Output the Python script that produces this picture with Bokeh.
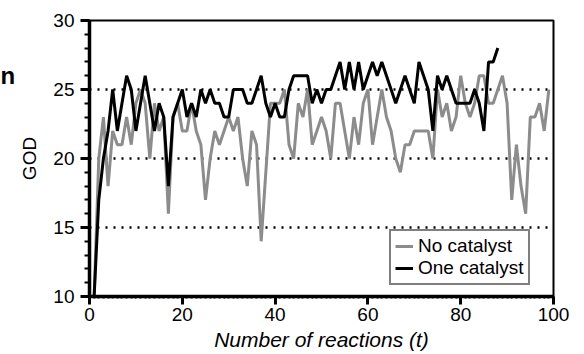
from bokeh.plotting import figure
from bokeh.models import (Range1d, SingleIntervalTicker, FixedTicker, Legend, LegendItem, Label)
from bokeh.layouts import row
from bokeh.embed import file_html
from bokeh.resources import INLINE

# Data
t_no_cat = list(range(1, 100))
god_no_cat = [10, 20, 23, 18, 22, 21, 21, 23, 21, 24,
              25, 24, 20, 24, 22, 23, 16, 23, 24, 22,
              22, 24, 22, 21, 17, 20, 22, 21, 22, 23,
              22, 23, 20, 18, 22, 21, 14, 19, 24, 24,
              24, 25, 21, 20, 24, 23, 25, 21, 22, 23,
              22, 20, 24, 24, 22, 20, 23, 21, 24, 25,
              21, 23, 25, 23, 22, 20, 19, 21, 21, 22,
              22, 22, 22, 20, 25, 23, 24, 22, 23, 26,
              24, 23, 24, 26, 26, 24, 24, 25, 26, 24,
              17, 21, 18, 16, 23, 23, 24, 22, 25]

t_one_cat = list(range(1, 89))
god_one_cat = [10, 17, 20, 22, 25, 22, 24, 26, 25, 22,
               24, 26, 24, 22, 24, 23, 18, 23, 24, 25,
               23, 24, 23, 25, 24, 25, 24, 24, 23, 23,
               25, 25, 25, 24, 24, 25, 26, 24, 23, 24,
               23, 23, 25, 26, 26, 26, 26, 24, 25, 24,
               25, 25, 26, 27, 25, 27, 25, 27, 25, 26,
               27, 26, 27, 26, 25, 24, 25, 26, 25, 24,
               27, 26, 25, 22, 26, 25, 26, 25, 24, 24,
               24, 24, 25, 24, 22, 27, 27, 28]

series_labels = ["No catalyst", "One catalyst"]
x_label = "Number of reactions (t)"
y_label = "GOD"
grid_levels = [15, 20, 25]
side_text = "n"

FONT = "Liberation Sans"
SIDE_W = 16

# narrow strip on the far left holding the fragment of neighbouring text
side = figure(width=SIDE_W, height=354, output_backend="svg", toolbar_location=None,
              x_range=Range1d(0, 1), y_range=Range1d(10, 30),
              min_border_left=0, min_border_right=0, min_border_top=20,
              min_border_bottom=58)
side.axis.visible = False
side.grid.visible = False
side.outline_line_color = None
side.add_layout(Label(x=0, y=26.0, text=side_text, text_font=FONT,
                      text_font_style="bold", text_font_size="24px",
                      text_color="black", text_baseline="alphabetic",
                      text_align="left"))

p = figure(width=584 - SIDE_W, height=354, output_backend="svg", toolbar_location=None,
           x_range=Range1d(0, 100), y_range=Range1d(10, 30),
           min_border_left=88 - SIDE_W, min_border_right=31, min_border_top=20,
           min_border_bottom=58)

p.outline_line_color = "black"
p.outline_line_width = 2

# axes
p.xaxis.ticker = SingleIntervalTicker(interval=20, num_minor_ticks=20)
p.yaxis.ticker = SingleIntervalTicker(interval=5, num_minor_ticks=5)
for ax in (p.xaxis[0], p.yaxis[0]):
    ax.axis_line_width = 3.5
    ax.axis_line_color = "black"
    ax.major_tick_line_width = 3
    ax.minor_tick_line_width = 2
    ax.major_tick_in = 0
    ax.minor_tick_in = 0
    ax.major_label_text_font = FONT
    ax.major_label_text_font_size = "19px"
    ax.major_label_text_color = "black"
    ax.axis_label_text_font = FONT
    ax.axis_label_text_color = "black"
p.xaxis.major_tick_out = 8
p.xaxis.minor_tick_out = 2
p.yaxis.major_tick_out = 9
p.yaxis.minor_tick_out = 5
p.xaxis.major_label_standoff = 3
p.yaxis.major_label_standoff = 6
p.xaxis.axis_label = x_label
p.xaxis.axis_label_text_font_style = "italic"
p.xaxis.axis_label_text_font_size = "21px"
p.xaxis.axis_label_standoff = 4
p.yaxis.axis_label = y_label
p.yaxis.axis_label_text_font_style = "normal"
p.yaxis.axis_label_text_font_size = "19px"
p.yaxis.axis_label_standoff = 10

# grid: only dotted horizontal lines
p.xgrid.grid_line_color = None
p.ygrid.ticker = FixedTicker(ticks=grid_levels)
p.ygrid.grid_line_color = "black"
p.ygrid.grid_line_width = 2.5
p.ygrid.grid_line_dash = "2 6"

r1 = p.line(t_no_cat, god_no_cat, line_color="#8c8c8c", line_width=3)
r2 = p.line(t_one_cat, god_one_cat, line_color="black", line_width=3)

legend = Legend(items=[LegendItem(label=series_labels[0], renderers=[r1]),
                       LegendItem(label=series_labels[1], renderers=[r2])],
                location=(300, 11))
legend.border_line_color = "black"
legend.border_line_width = 2
legend.background_fill_color = "white"
legend.background_fill_alpha = 1
legend.label_text_font = FONT
legend.label_text_font_size = "19px"
legend.label_text_color = "black"
legend.glyph_width = 18
legend.glyph_height = 20
legend.label_height = 20
legend.label_standoff = 5
legend.padding = 4
legend.spacing = 0
legend.margin = 0
p.add_layout(legend, "center")

layout = row(side, p, spacing=0)
open("out.html", "w").write(file_html(layout, INLINE))
